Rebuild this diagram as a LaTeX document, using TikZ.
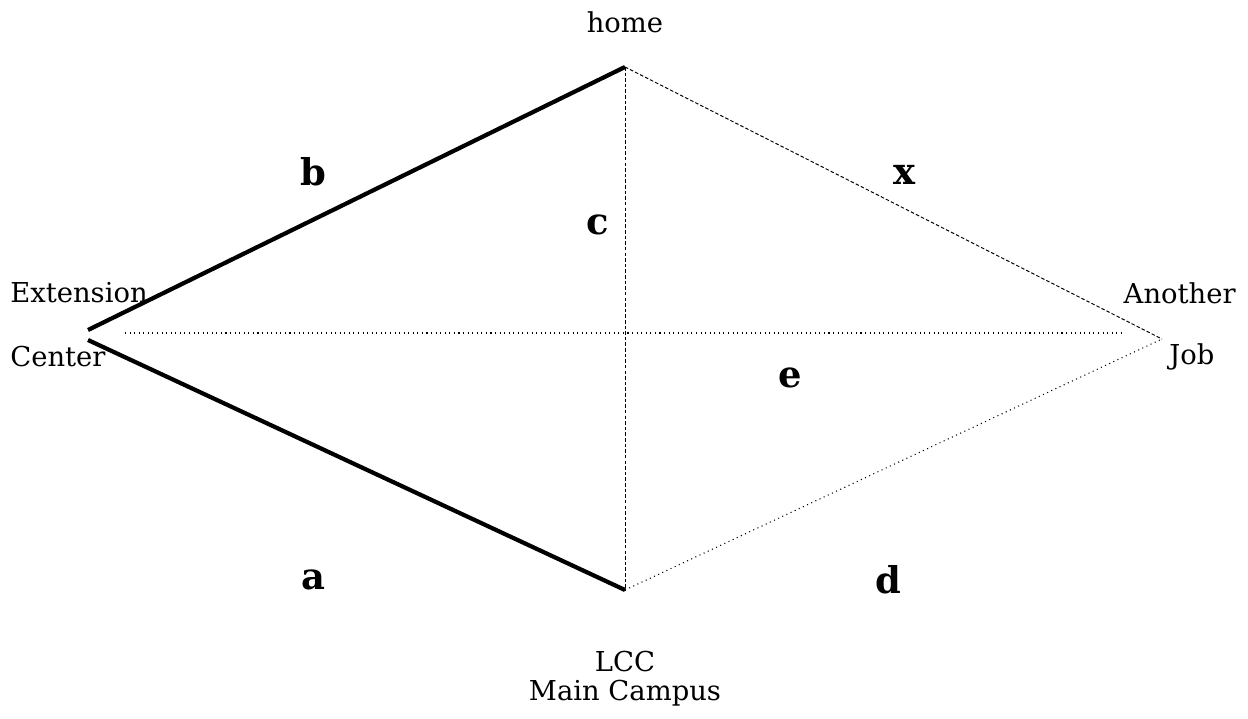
\documentclass[tikz,border=0pt]{standalone}
\usepackage{fontspec}
\setmainfont{DejaVu Serif}
\tikzset{
  place/.style={font=\fontsize{15.6}{18}\selectfont,inner sep=0pt},
  side/.style={font=\bfseries\fontsize{21}{24}\selectfont,inner sep=0pt},
  heavy/.style={line width=2.4pt},
  dashedge/.style={line width=0.55pt,dash pattern=on 2pt off 1.2pt},
  dotedge/.style={line width=0.6pt,dotted}
}
\begin{document}
\begin{tikzpicture}[x=0.02cm,y=-0.02cm]
  \useasboundingbox (0,0) rectangle (1248,719);
  % corners
  \coordinate (home) at (625,67);
  \coordinate (ext1) at (88,330);
  \coordinate (ext2) at (88,340);
  \coordinate (lcc) at (625,590);
  \coordinate (job) at (1162,339);
  \coordinate (e1) at (125,333);
  \coordinate (e2) at (1125,333);
  % legs
  \draw[heavy] (ext1) -- (home);
  \draw[heavy] (ext2) -- (lcc);
  \draw[dashedge] (home) -- (lcc);
  \draw[dashedge] (home) -- (job);
  \draw[dotedge] (lcc) -- (job);
  \draw[dotedge] (e1) -- (e2);
  % names
  \node[place] (homet) at (625,22) {home};
  \node[place,anchor=west] (extt) at (10,293) {Extension};
  \node[place,anchor=west] (cent) at (10,357) {Center};
  \node[place,anchor=east] (anot) at (1236,293) {Another};
  \node[place] (jobt) at (1192,357) {Job};
  \node[place] (lcct) at (625,662) {LCC};
  \node[place] (maint) at (625,693) {Main Campus};
  % sides
  \node[side] (b) at (313,172) {b};
  \node[side] (c) at (598,225) {c};
  \node[side] (x) at (904,175) {x};
  \node[side] (e) at (790,378) {e};
  \node[side] (a) at (313,580) {a};
  \node[side] (d) at (888,580) {d};
\end{tikzpicture}
\end{document}
